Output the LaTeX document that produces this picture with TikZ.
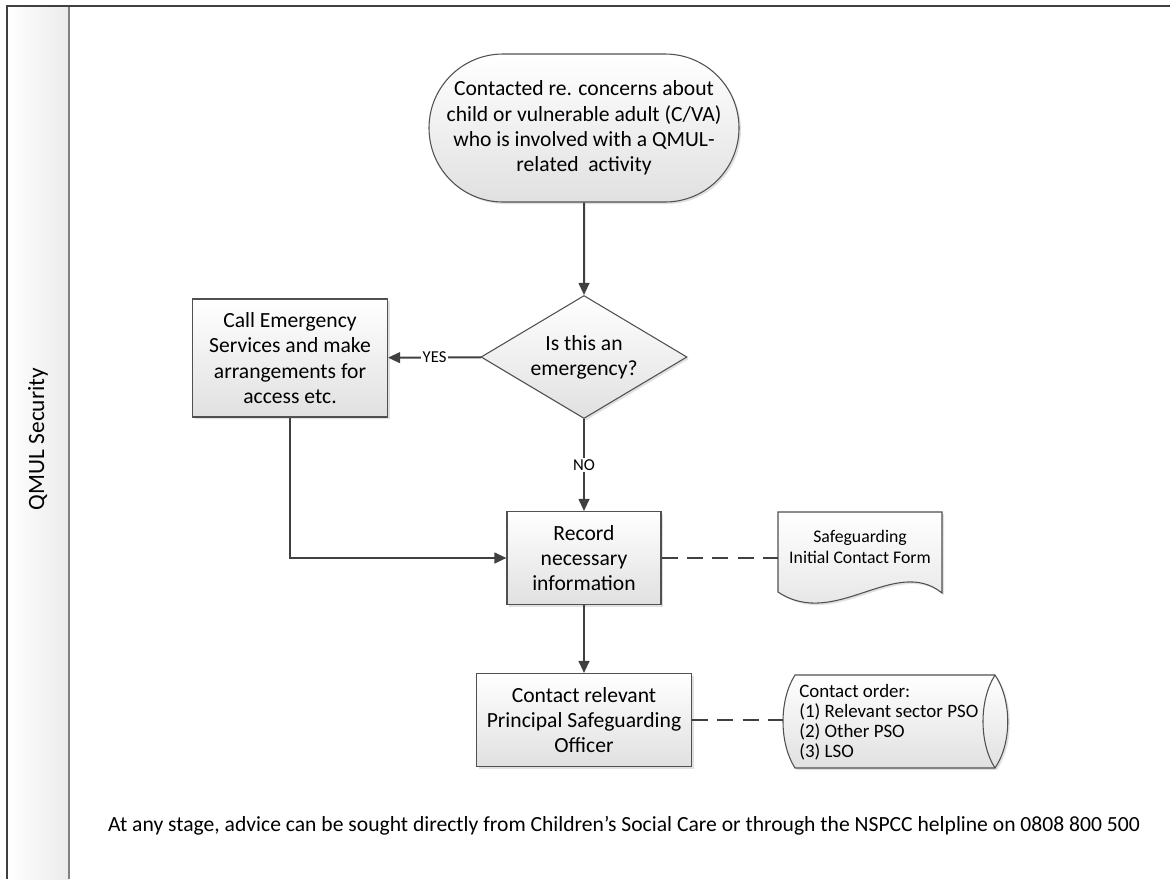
\documentclass[tikz,border=0pt]{standalone}
\usepackage{fontspec}
\setmainfont{Carlito}
\usetikzlibrary{arrows.meta,shapes.geometric,shapes.misc,shadows}
\definecolor{ln}{HTML}{404040}
\definecolor{bx}{HTML}{505050}
\tikzset{
  shapefill/.style={draw=bx, line width=0.8pt, top color=white, bottom color=black!12},
  shad/.style={drop shadow={shadow xshift=1.5pt, shadow yshift=-1.5pt, opacity=0.2, fill=black!60}},
  procbox/.style={shapefill, shad, rectangle, align=center, inner sep=0pt, font=\fontsize{16.2}{18.9}\selectfont},
  startbox/.style={shapefill, shad, rounded rectangle, align=center, inner sep=0pt, minimum width=310*0.75pt, minimum height=148*0.75pt, font=\fontsize{16.2}{18.9}\selectfont},
  decbox/.style={shapefill, shad, diamond, aspect=1.67, align=center, inner sep=0pt, minimum width=206*0.75pt, minimum height=123*0.75pt, font=\fontsize{16.2}{18.9}\selectfont},
  arr/.style={draw=ln, line width=1.5pt, -{Triangle[length=9pt,width=8pt]}},
  dashline/.style={draw=ln, line width=1.5pt, dash pattern=on 12pt off 7pt},
  lab/.style={fill=white, inner sep=1pt, font=\fontsize{12.5}{14}\selectfont, text=black},
}
\begin{document}
\begin{tikzpicture}[x=0.75pt, y=-0.75pt]
\useasboundingbox (0,0) rectangle (1170,879);
% swimlane
\fill[left color=white, right color=black!8] (7,6) rectangle (69,879);
\draw[draw=black!50, line width=1.2pt] (69,6) -- (69,879);
\draw[draw=ln, line width=1.2pt] (7,879) -- (7,6) -- (1170,6);
\node[rotate=90, font=\fontsize{17.5}{20}\selectfont] (lane) at (38,439) {QMUL Security};

% nodes
\node[startbox] (start) at (584,128) {Contacted re. concerns about\\child or vulnerable adult (C/VA)\\who is involved with a QMUL-\\related\ \ activity};
\node[decbox] (dia) at (584,357) {Is this an\\emergency?};
\node[procbox, minimum width=195*0.75pt, minimum height=118*0.75pt] (emer) at (290,358) {Call Emergency\\Services and make\\arrangements for\\access etc.};
\node[procbox, minimum width=154*0.75pt, minimum height=93*0.75pt] (rec) at (584,558) {Record\\necessary\\information};
\node[procbox, minimum width=215*0.75pt, minimum height=93*0.75pt] (pso) at (584,720) {Contact relevant\\Principal Safeguarding\\Officer};

% document shape
\path[shapefill, shad] (778,512) -- (942,512) -- (942,593) .. controls (895,555) and (835,630) .. (778,592) -- cycle;
\coordinate (docL) at (778,558);
\node[align=center, font=\fontsize{13.3}{15.8}\selectfont] (doc) at (860,547) {Safeguarding\\Initial Contact Form};

% stored data shape
\path[shapefill, shad] (795,675) -- (995,675) .. controls (1012,700) and (1012,743) .. (995,768) -- (795,768) .. controls (779,743) and (779,700) .. (795,675) -- cycle;
\draw[draw=bx, line width=0.8pt] (995,675) .. controls (979,700) and (979,743) .. (995,768);
\coordinate (stoL) at (783,720);
\node[anchor=west, align=left, inner sep=0pt, font=\fontsize{14.2}{15}\selectfont] (sto) at (799,722) {Contact order:\\(1) Relevant sector PSO\\(2) Other PSO\\(3) LSO};

% connectors
\draw[arr] (start) -- (dia);
\draw[arr] (dia) -- node[lab]{YES} (emer);
\draw[arr] (dia) -- node[lab]{NO} (rec);
\draw[arr] (emer.south) |- (rec.west);
\draw[arr] (rec) -- (pso);
\draw[dashline] (rec.east) -- (docL);
\draw[dashline] (pso.east) -- (stoL);

% note
\node[font=\fontsize{16.2}{18}\selectfont] (note) at (624,826) {At any stage, advice can be sought directly from Children’s Social Care or through the NSPCC helpline on 0808 800 500};
\end{tikzpicture}
\end{document}
